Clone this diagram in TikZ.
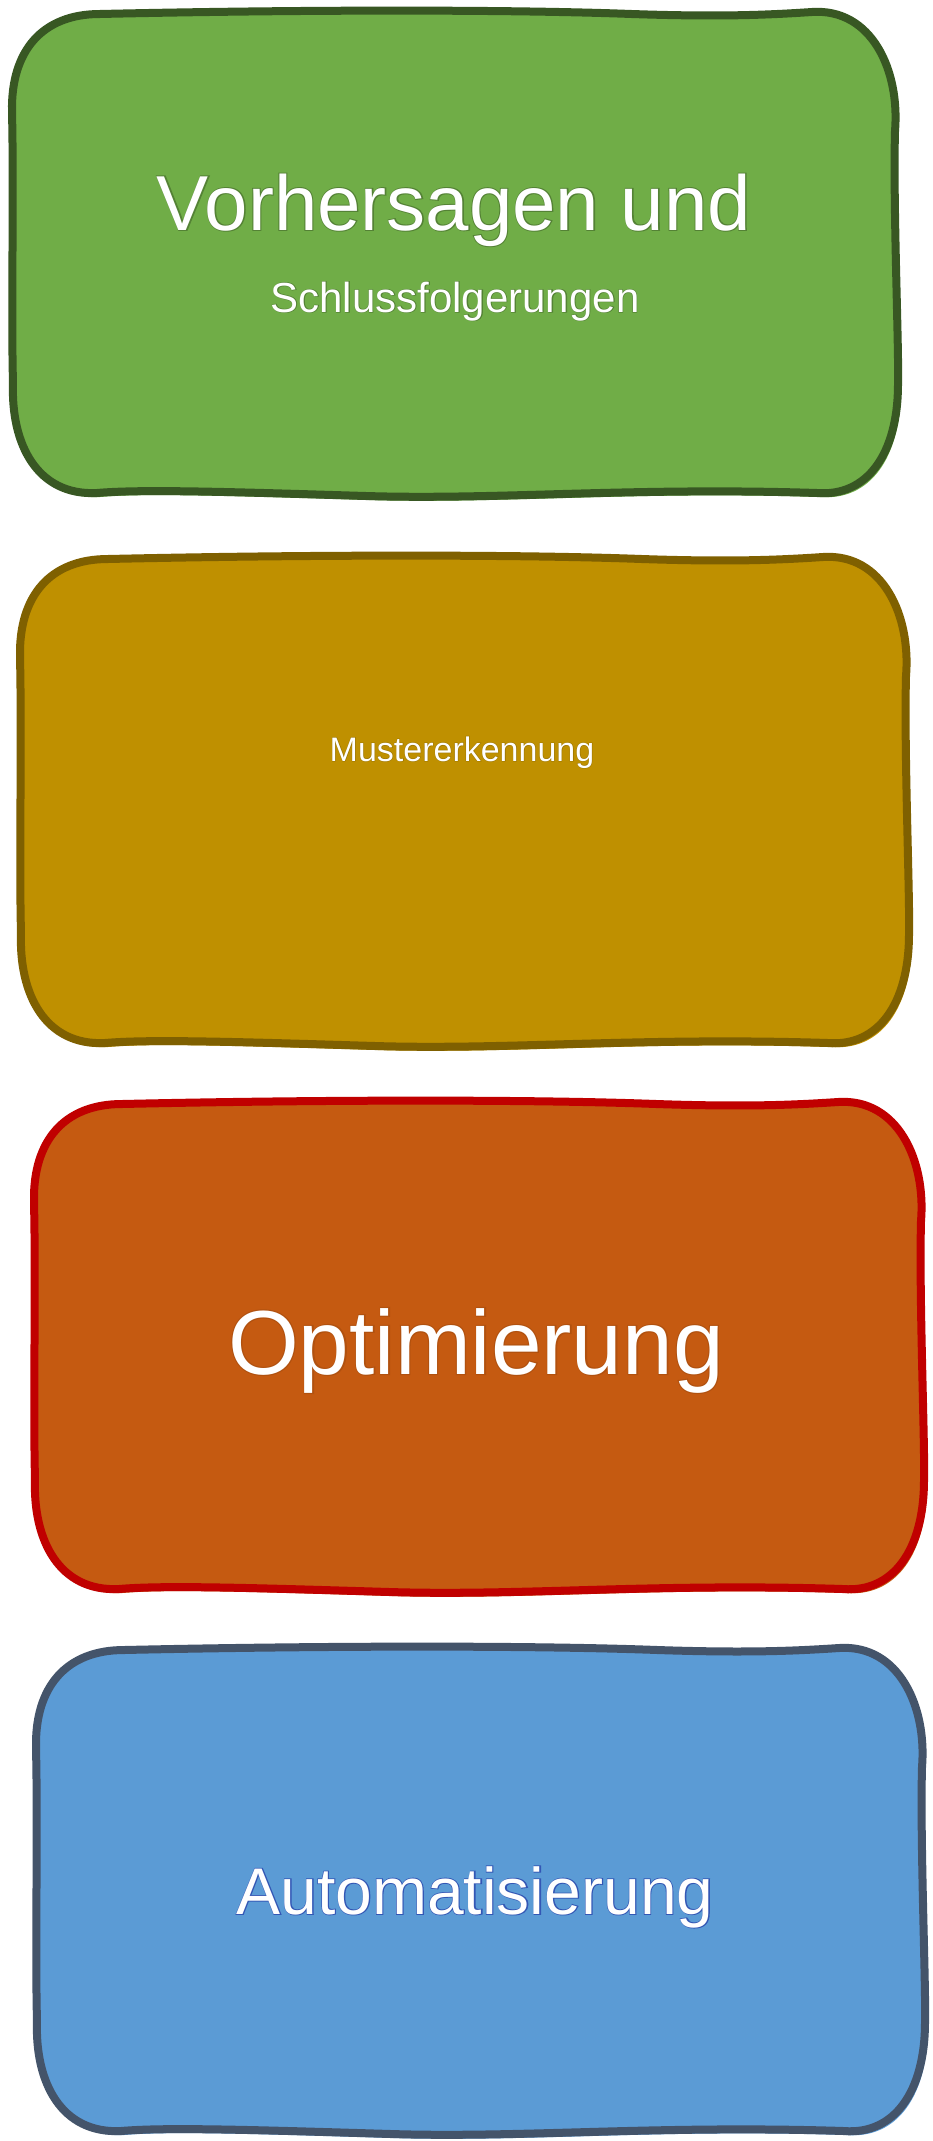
\documentclass[tikz,border=0pt]{standalone}
\usepackage{fontspec}
\setmainfont{Liberation Sans}
\newfontfamily\halofont[FakeBold=2.5]{Liberation Sans}
\usetikzlibrary{calc}
\definecolor{gfill}{HTML}{70AD47}\definecolor{gdraw}{HTML}{385723}
\definecolor{yfill}{HTML}{BF9000}\definecolor{ydraw}{HTML}{7F6000}
\definecolor{ofill}{HTML}{C55A11}\definecolor{odraw}{HTML}{C00000}
\definecolor{bfill}{HTML}{5B9BD5}\definecolor{bdraw}{HTML}{44546A}
\newcommand\wobblepath[4]{%
  ({#1+88},{#2+3})
  .. controls ({#1+0.3*\W},{#2-1}) and ({#1+0.55*\W},{#2-2}) .. ({#1+0.7*\W},{#2+3})
  .. controls ({#1+0.8*\W},{#2+6}) and ({#3-130},{#2+4}) .. ({#3-85},{#2+1})
  .. controls ({#3-25},{#2-3}) and ({#3+3},{#2+60}) .. ({#3-2},{#2+120})
  .. controls ({#3-4},{#2+0.4*\H}) and ({#3+2},{#2+0.7*\H}) .. ({#3+1},{#4-110})
  .. controls ({#3+1},{#4-40}) and ({#3-30},{#4+3}) .. ({#3-80},{#4-1})
  .. controls ({#3-0.3*\W},{#4-7}) and ({#1+0.55*\W},{#4+6}) .. ({#1+0.4*\W},{#4+2})
  .. controls ({#1+0.25*\W},{#4-2}) and ({#1+130},{#4-5}) .. ({#1+85},{#4-1})
  .. controls ({#1+25},{#4+2}) and ({#1-1},{#4-50}) .. ({#1+1},{#4-110})
  .. controls ({#1-1},{#4-0.4*\H}) and ({#1+2},{#2+0.4*\H}) .. ({#1},{#2+100})
  .. controls ({#1-1},{#2+40}) and ({#1+30},{#2+3}) .. ({#1+88},{#2+3}) -- cycle}
\newcommand\wobblybox[6]{%
  \pgfmathsetmacro\W{#3-#1}\pgfmathsetmacro\H{#4-#2}%
  \fill[#5, shift={(3,4)}] \wobblepath{#1}{#2}{#3}{#4};
  \path[fill=#5, draw=#6, line width=8pt, line join=round] \wobblepath{#1}{#2}{#3}{#4};
}
\newcommand\halotext[6]{% name, x, y, size, halo colour, text
  \node[anchor=base, inner sep=0pt, text=#5, font=\halofont\fontsize{#4}{#4}\selectfont] at (#2,#3) {#6};
  \node[anchor=base, inner sep=0pt, text=white, font=\fontsize{#4}{#4}\selectfont] (#1) at (#2,#3) {#6};
}
\begin{document}
\begin{tikzpicture}[x=1pt,y=-1pt]
\useasboundingbox (0,0) rectangle (932,2141);
\fill[white] (0,0) rectangle (932,2141);
\wobblybox{12}{11}{897}{494}{gfill}{gdraw}
\wobblybox{20}{556}{908}{1044}{yfill}{ydraw}
\wobblybox{34}{1101}{923}{1590}{ofill}{odraw}
\wobblybox{36}{1647}{924}{2132}{bfill}{bdraw}
\halotext{t1}{454}{230}{78}{gfill!75!black}{Vorhersagen und}
\halotext{t2}{455}{312}{42}{gfill!75!black}{Schlussfolgerungen}
\halotext{t3}{462}{761}{34}{yfill!80!black}{Mustererkennung}
\halotext{t4}{476}{1374}{91}{ofill!90!black}{Optimierung}
\halotext{t5}{475}{1914}{66}{bfill!70!blue!80!black}{Automatisierung}
\end{tikzpicture}
\end{document}
